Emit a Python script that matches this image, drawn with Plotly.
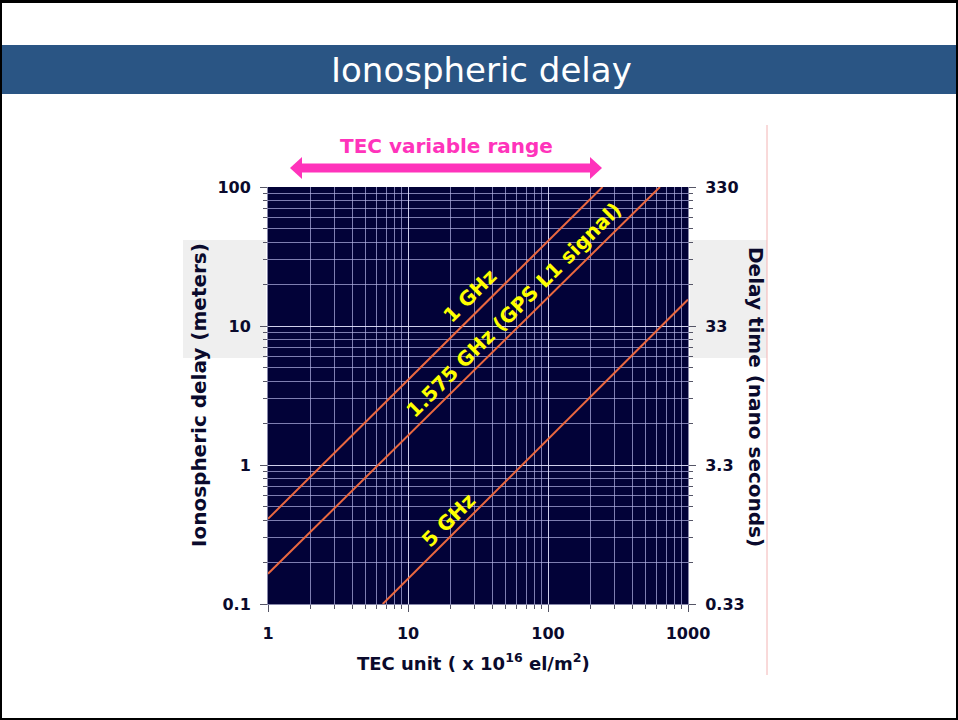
import numpy as np
import plotly.graph_objects as go

# ---------------- data ----------------
tec_ticks = [1, 10, 100, 1000]
tec_tick_labels = ["1", "10", "100", "1000"]
delay_ticks = [0.1, 1, 10, 100]
delay_tick_labels = ["0.1", "1", "10", "100"]
time_tick_labels = ["0.33", "3.3", "33", "330"]

# straight lines on log-log axes, read as endpoints (TEC, delay in m)
f1ghz_tec = [1, 245]
f1ghz_delay = [0.41, 100]
f1575_tec = [1, 630]
f1575_delay = [0.165, 100]
f5ghz_tec = [6.6, 1000]
f5ghz_delay = [0.1, 15.5]

line_names = ["1 GHz", "1.575 GHz (GPS L1 signal)", "5 GHz"]

# ---------------- layout helpers ----------------
W, H = 958, 720
L, R, T, B = 268, 270, 187, 116
PW, PH = W - L - R, H - T - B


def px(x):
    return (x - L) / PW


def py(y):
    return (H - B - y) / PH


FONT = "DejaVu Sans"
DARK = "#0a0a2c"
LINE_COLOR = "#ea6840"
PINK = "#ff33bb"

fig = go.Figure()

for xs, ys, nm in [(f1ghz_tec, f1ghz_delay, line_names[0]),
                   (f1575_tec, f1575_delay, line_names[1]),
                   (f5ghz_tec, f5ghz_delay, line_names[2])]:
    fig.add_trace(go.Scatter(x=xs, y=ys, mode="lines", name=nm,
                             line=dict(color=LINE_COLOR, width=2),
                             showlegend=False, hoverinfo="skip"))

# dummy trace for right axis
fig.add_trace(go.Scatter(x=[1], y=[1], yaxis="y2", mode="markers",
                         marker=dict(opacity=0), showlegend=False, hoverinfo="skip"))

x_minor = [k * 10 ** d for d in range(0, 3) for k in range(2, 10)]
y_minor = [k * 10.0 ** d for d in range(-1, 2) for k in range(2, 10)]

grid_major = "rgba(230,230,255,0.9)"
grid_minor = "rgba(180,180,230,0.7)"
tick_col = "#555566"
tickfont = dict(family=FONT, size=16, color=DARK, weight="bold")

fig.update_layout(
    width=W, height=H,
    margin=dict(l=L, r=R, t=T, b=B, pad=0),
    paper_bgcolor="white",
    plot_bgcolor="#020238",
    showlegend=False,
    xaxis=dict(
        type="log", range=[0, 3],
        tickvals=tec_ticks, ticktext=tec_tick_labels,
        ticks="outside", ticklen=7, tickcolor=tick_col, tickwidth=1,
        showgrid=True, gridcolor=grid_major, gridwidth=1.4,
        showline=True, linecolor="#8888aa", linewidth=1,
        tickfont=tickfont,
        ticklabelstandoff=8,
        zeroline=False,
        minor=dict(tickvals=x_minor, ticks="outside", ticklen=4,
                   tickcolor=tick_col, showgrid=True, gridcolor=grid_minor,
                   gridwidth=1),
    ),
    yaxis=dict(
        type="log", range=[-1, 2],
        tickvals=delay_ticks, ticktext=delay_tick_labels,
        ticks="outside", ticklen=7, tickcolor=tick_col, tickwidth=1,
        showgrid=True, gridcolor=grid_major, gridwidth=1.4,
        showline=True, linecolor="#8888aa", linewidth=1,
        tickfont=tickfont,
        ticklabelstandoff=6,
        zeroline=False,
        minor=dict(tickvals=y_minor, ticks="outside", ticklen=4,
                   tickcolor=tick_col, showgrid=True, gridcolor=grid_minor,
                   gridwidth=1),
    ),
    yaxis2=dict(
        type="log", range=[-1, 2], overlaying="y", side="right",
        tickvals=delay_ticks, ticktext=time_tick_labels,
        ticks="outside", ticklen=7, tickcolor=tick_col, tickwidth=1,
        showgrid=False, showline=True, linecolor="#8888aa", linewidth=1,
        tickfont=tickfont,
        ticklabelstandoff=6,
        zeroline=False,
        minor=dict(tickvals=y_minor, ticks="outside", ticklen=4,
                   tickcolor=tick_col, showgrid=False),
    ),
)

shapes = []
# gray band behind axis titles (two pieces beside plot)
for x0, x1 in [(183, 266), (690, 767)]:
    shapes.append(dict(type="rect", xref="paper", yref="paper",
                       x0=px(x0), x1=px(x1), y0=py(358), y1=py(240),
                       fillcolor="#efefef", line=dict(width=0), layer="below"))
# title bar
shapes.append(dict(type="rect", xref="paper", yref="paper",
                   x0=px(0), x1=px(W), y0=py(94), y1=py(45),
                   fillcolor="#2a5584", line=dict(width=0), layer="below"))
# pink vertical rule
shapes.append(dict(type="line", xref="paper", yref="paper",
                   x0=px(767), x1=px(767), y0=py(675), y1=py(125),
                   line=dict(color="#f3b4b4", width=1), layer="below"))
# outer border
shapes.append(dict(type="rect", xref="paper", yref="paper",
                   x0=px(1), x1=px(W - 1), y0=py(H - 1), y1=py(1),
                   line=dict(color="black", width=2), fillcolor="rgba(0,0,0,0)"))
shapes.append(dict(type="line", xref="paper", yref="paper",
                   x0=px(0), x1=px(W), y0=py(1.5), y1=py(1.5),
                   line=dict(color="black", width=3)))
# TEC variable range arrow
ay = 168
shapes.append(dict(type="line", xref="paper", yref="paper",
                   x0=px(300), x1=px(592), y0=py(ay), y1=py(ay),
                   line=dict(color=PINK, width=9)))
for tip, base in [(290, 302), (602, 590)]:
    path = (f"M {px(tip)},{py(ay)} L {px(base)},{py(ay - 11)} "
            f"L {px(base)},{py(ay + 11)} Z")
    shapes.append(dict(type="path", xref="paper", yref="paper", path=path,
                       fillcolor=PINK, line=dict(color=PINK, width=0)))
fig.update_layout(shapes=shapes)

annotations = [
    dict(text="Ionospheric delay", x=px(481), y=py(70),
         font=dict(family=FONT, size=34, color="white")),
    dict(text="TEC variable range", x=px(446), y=py(146),
         font=dict(family=FONT, size=20, color=PINK, weight="bold")),
    dict(text="Ionospheric delay (meters)", x=px(199), y=py(395), textangle=-90,
         font=dict(family=FONT, size=20, color=DARK, weight="bold")),
    dict(text="Delay time (nano seconds)", x=px(756), y=py(397), textangle=90,
         font=dict(family=FONT, size=20, color=DARK, weight="bold")),
    dict(text="TEC unit ( x 10<sup>16</sup> el/m<sup>2</sup>)", x=px(473), y=py(662),
         font=dict(family=FONT, size=18, color=DARK, weight="bold")),
]
for a in annotations:
    a.update(xref="paper", yref="paper", showarrow=False,
             xanchor="center", yanchor="middle")

# line labels (positions in TEC / delay units)
label_pos = [(27.5, 16.5), (57, 13.0), (19.6, 0.40)]
for nm, (lx, ly) in zip(line_names, label_pos):
    annotations.append(dict(text=nm, x=np.log10(lx), y=np.log10(ly),
                            xref="x", yref="y", showarrow=False, textangle=-45,
                            xanchor="center", yanchor="middle",
                            font=dict(family=FONT, size=20, color="#ffff00",
                                      weight="bold")))
fig.update_layout(annotations=annotations)

fig.write_html("out.html")
